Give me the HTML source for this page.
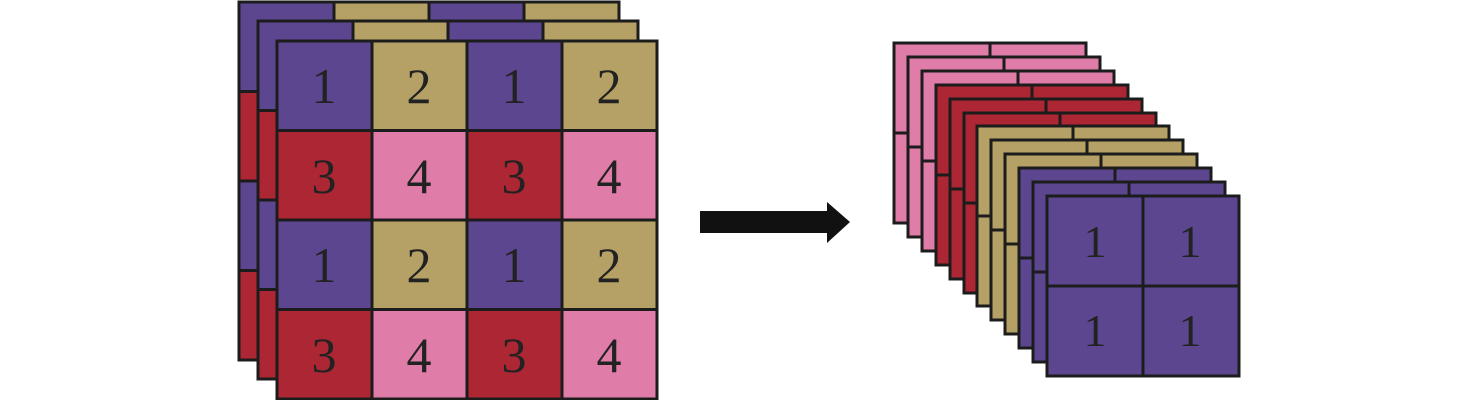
<!DOCTYPE html>
<html><head><meta charset="utf-8"><style>
html,body{margin:0;padding:0;background:#fff;width:1476px;height:400px;overflow:hidden}
svg{display:block}
text{font-family:"Liberation Serif",serif;fill:#222}
</style></head><body>
<svg width="1476" height="400" viewBox="0 0 1476 400" xmlns="http://www.w3.org/2000/svg">
<defs>
<g id="L" stroke="#1c1c1c" stroke-width="3">
<rect x="0" y="0" width="95" height="89.5" fill="#5c4690"/>
<rect x="95" y="0" width="95" height="89.5" fill="#b5a165"/>
<rect x="190" y="0" width="95" height="89.5" fill="#5c4690"/>
<rect x="285" y="0" width="95" height="89.5" fill="#b5a165"/>
<rect x="0" y="89.5" width="95" height="89.5" fill="#ac2733"/>
<rect x="95" y="89.5" width="95" height="89.5" fill="#e07ca8"/>
<rect x="190" y="89.5" width="95" height="89.5" fill="#ac2733"/>
<rect x="285" y="89.5" width="95" height="89.5" fill="#e07ca8"/>
<rect x="0" y="179" width="95" height="89.5" fill="#5c4690"/>
<rect x="95" y="179" width="95" height="89.5" fill="#b5a165"/>
<rect x="190" y="179" width="95" height="89.5" fill="#5c4690"/>
<rect x="285" y="179" width="95" height="89.5" fill="#b5a165"/>
<rect x="0" y="268.5" width="95" height="89.5" fill="#ac2733"/>
<rect x="95" y="268.5" width="95" height="89.5" fill="#e07ca8"/>
<rect x="190" y="268.5" width="95" height="89.5" fill="#ac2733"/>
<rect x="285" y="268.5" width="95" height="89.5" fill="#e07ca8"/>
</g>
<g id="R" stroke="#1c1c1c" stroke-width="3">
<rect x="0" y="0" width="96" height="90"/>
<rect x="96" y="0" width="96" height="90"/>
<rect x="0" y="90" width="96" height="90"/>
<rect x="96" y="90" width="96" height="90"/>
</g>
</defs>
<use href="#L" x="239" y="2"/>
<use href="#L" x="258" y="21"/>
<use href="#L" x="277" y="41"/>
<g font-size="50" text-anchor="middle">
<text x="324" y="103">1</text><text x="419" y="103">2</text><text x="514" y="103">1</text><text x="609" y="103">2</text>
<text x="324" y="193">3</text><text x="419" y="193">4</text><text x="514" y="193">3</text><text x="609" y="193">4</text>
<text x="324" y="282">1</text><text x="419" y="282">2</text><text x="514" y="282">1</text><text x="609" y="282">2</text>
<text x="324" y="372">3</text><text x="419" y="372">4</text><text x="514" y="372">3</text><text x="609" y="372">4</text>
</g>
<polygon points="700,211 827,211 827,202 850,222 827,243 827,233 700,233" fill="#111"/>
<use href="#R" x="894" y="43" fill="#e07ca8"/>
<use href="#R" x="908" y="57" fill="#e07ca8"/>
<use href="#R" x="922" y="71" fill="#e07ca8"/>
<use href="#R" x="936" y="85" fill="#ac2733"/>
<use href="#R" x="950" y="99" fill="#ac2733"/>
<use href="#R" x="964" y="113" fill="#ac2733"/>
<use href="#R" x="977" y="126" fill="#b5a165"/>
<use href="#R" x="991" y="140" fill="#b5a165"/>
<use href="#R" x="1005" y="154" fill="#b5a165"/>
<use href="#R" x="1019" y="168" fill="#5c4690"/>
<use href="#R" x="1033" y="182" fill="#5c4690"/>
<use href="#R" x="1047" y="196" fill="#5c4690"/>
<g font-size="46" text-anchor="middle">
<text x="1095" y="257">1</text><text x="1190" y="257">1</text>
<text x="1095" y="346">1</text><text x="1190" y="346">1</text>
</g>
</svg>
</body></html>
